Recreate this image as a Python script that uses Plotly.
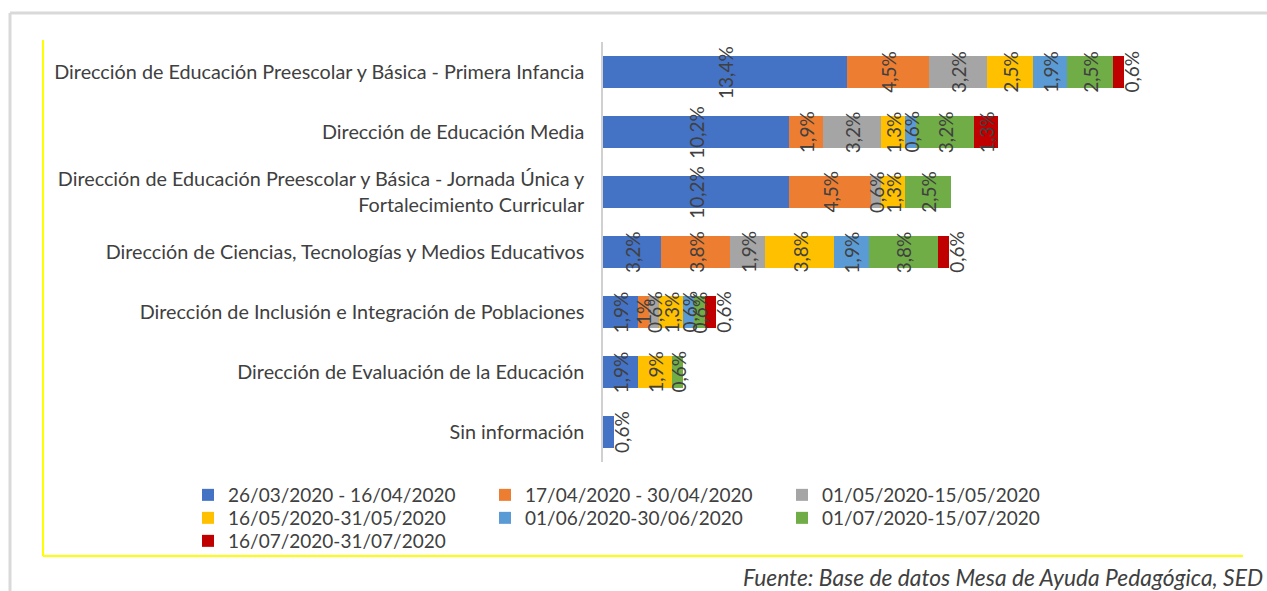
import plotly.graph_objects as go

# ---------------- data ----------------
categories = [
    "Dirección de Educación Preescolar y Básica - Primera Infancia",
    "Dirección de Educación Media",
    "Dirección de Educación Preescolar y Básica - Jornada Única y<br>Fortalecimiento Curricular",
    "Dirección de Ciencias, Tecnologías y Medios Educativos",
    "Dirección de Inclusión e Integración de Poblaciones",
    "Dirección de Evaluación de la Educación",
    "Sin información",
]
series_names = [
    "26/03/2020 - 16/04/2020",
    "17/04/2020 - 30/04/2020",
    "01/05/2020-15/05/2020",
    "16/05/2020-31/05/2020",
    "01/06/2020-30/06/2020",
    "01/07/2020-15/07/2020",
    "16/07/2020-31/07/2020",
]
s1 = [13.4, 10.2, 10.2, 3.2, 1.9, 1.9, 0.6]
s2 = [4.5, 1.9, 4.5, 3.8, 0.6, 0, 0]
s3 = [3.2, 3.2, 0.6, 1.9, 0.6, 0, 0]
s4 = [2.5, 1.3, 1.3, 3.8, 1.3, 1.9, 0]
s5 = [1.9, 0.6, 0, 1.9, 0.6, 0, 0]
s6 = [2.5, 3.2, 2.5, 3.8, 0.6, 0.6, 0]
s7 = [0.6, 1.3, 0, 0.6, 0.6, 0, 0]
series_values = [s1, s2, s3, s4, s5, s6, s7]
# label text shown differently in the source (row index, series index) -> text
label_overrides = {(4, 1): "1%"}
source_note = "Fuente: Base de datos Mesa de Ayuda Pedagógica, SED"

# ---------------- style ----------------
colors = ["#4472C4", "#ED7D31", "#A5A5A5", "#FFC000", "#5B9BD5", "#70AD47", "#C00000"]
outside_labels = {(0, 6), (3, 6), (4, 6), (6, 0)}
legend_of_series = ["legend", "legend", "legend", "legend2", "legend2", "legend2", "legend3"]
FONT = "Lato"
TXT = "#404040"
W, H = 1267, 591
ML, MR, MT, MB = 603, 27, 42, 129
PW, PH = W - ML - MR, H - MT - MB


def xp(px):
    return (px - ML) / PW


def yp(py):
    return (H - MB - py) / PH


fig = go.Figure()
for name, vals, col, lg in zip(series_names, series_values, colors, legend_of_series):
    fig.add_trace(go.Bar(
        y=categories, x=vals, name=name, orientation="h",
        marker=dict(color=col, line=dict(width=0)),
        legend=lg, hoverinfo="x+name",
    ))

# data labels (rotated), positioned in data coordinates from the arrays
annotations = []
for r, cat in enumerate(categories):
    cum = 0.0
    for s, vals in enumerate(series_values):
        v = vals[r]
        if v <= 0:
            continue
        txt = label_overrides.get((r, s), f"{v:.1f}".replace(".", ",") + "%")
        if (r, s) in outside_labels:
            x, xs = cum + v, 7
        else:
            x, xs = cum + v / 2, 0
        annotations.append(dict(
            x=x, y=cat, xref="x", yref="y", text=txt, showarrow=False,
            textangle=-90, xanchor="center", yanchor="middle", xshift=xs,
            font=dict(family=FONT, size=19, color=TXT),
        ))
        cum += v

annotations.append(dict(
    x=xp(741), y=yp(577), xref="paper", yref="paper", text=f"<i>{source_note}</i>",
    showarrow=False, xanchor="left", yanchor="middle",
    font=dict(family=FONT, size=22.8, color=TXT),
))

shapes = [
    dict(type="line", xref="paper", yref="paper", x0=xp(10), x1=xp(10), y0=yp(13), y1=yp(600),
         line=dict(color="#D9D9D9", width=3)),
    dict(type="line", xref="paper", yref="paper", x0=xp(10), x1=xp(1280), y0=yp(13), y1=yp(13),
         line=dict(color="#D9D9D9", width=3)),
    dict(type="line", xref="paper", yref="paper", x0=xp(43), x1=xp(43), y0=yp(40), y1=yp(556),
         line=dict(color="#FFFF00", width=2)),
    dict(type="line", xref="paper", yref="paper", x0=xp(43), x1=xp(1243), y0=yp(556), y1=yp(556),
         line=dict(color="#FFFF00", width=2)),
]

leg_common = dict(orientation="h", xref="paper", yref="paper", xanchor="left", yanchor="top",
                  bgcolor="rgba(0,0,0,0)", entrywidth=252, entrywidthmode="pixels",
                  font=dict(family=FONT, size=19, color=TXT), traceorder="normal")

fig.update_layout(
    width=W, height=H,
    margin=dict(l=ML, r=MR, t=MT, b=MB, autoexpand=False),
    paper_bgcolor="white", plot_bgcolor="white",
    barmode="stack", bargap=0.483,
    font=dict(family=FONT, size=19, color=TXT),
    xaxis=dict(range=[0, 35], showgrid=False, zeroline=False, showticklabels=False,
               showline=False, fixedrange=True),
    yaxis=dict(categoryorder="array", categoryarray=categories, autorange="reversed",
               showgrid=False, zeroline=False, showline=True, linecolor="#D0D0D0",
               linewidth=1.5, ticks="", ticklabelstandoff=13,
               tickfont=dict(family=FONT, size=19.8, color=TXT)),
    legend=dict(leg_common, x=xp(188), y=yp(476)),
    legend2=dict(leg_common, x=xp(188), y=yp(499)),
    legend3=dict(leg_common, x=xp(188), y=yp(522)),
    annotations=annotations, shapes=shapes,
    showlegend=True,
)

fig.write_html(
    "out.html",
    config={"displayModeBar": False},
    post_script="document.body.style.margin='0';document.body.style.overflow='hidden';",
)
